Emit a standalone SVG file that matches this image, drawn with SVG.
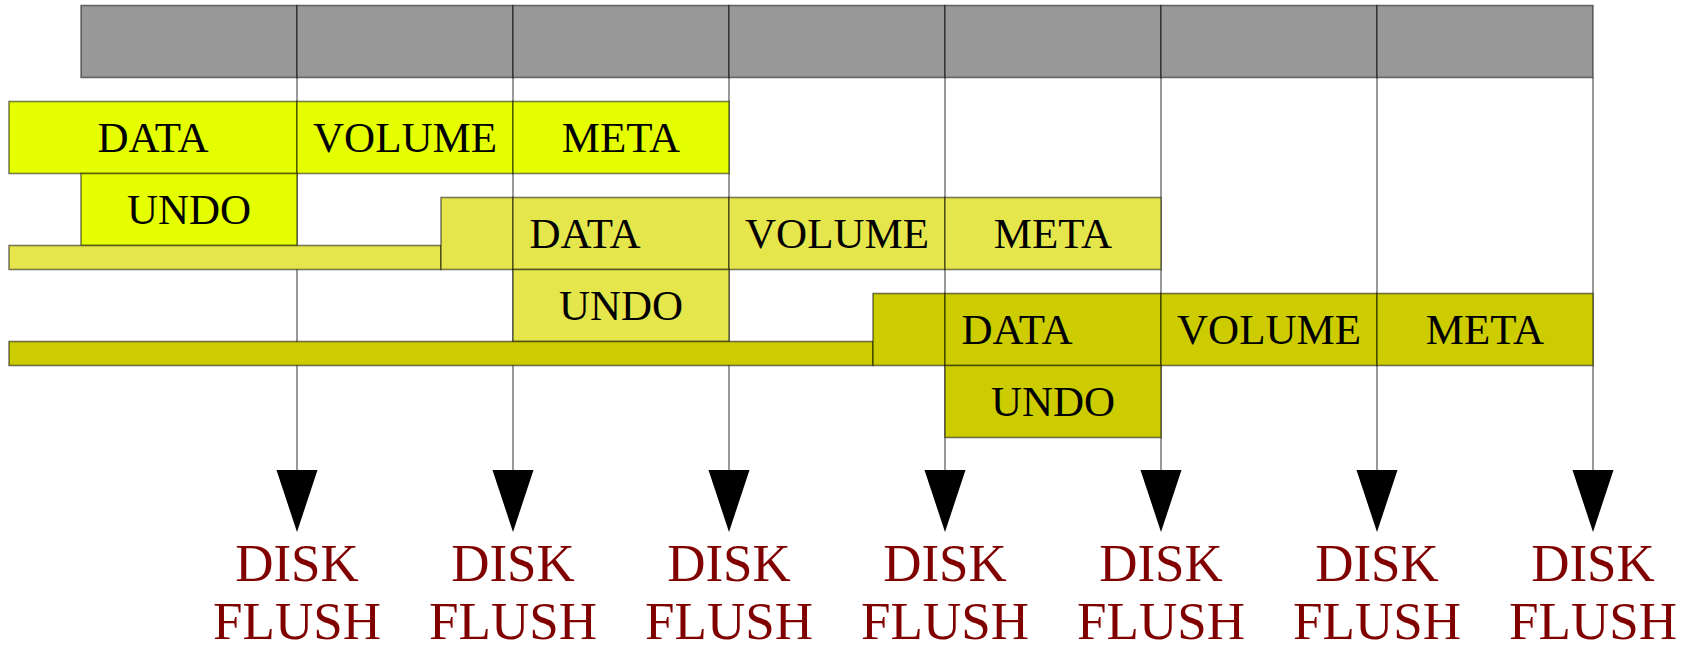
<svg xmlns="http://www.w3.org/2000/svg" width="1690" height="646" viewBox="0 0 1690 646">
  <style>
    .cell { stroke: #000; stroke-opacity: 0.5; stroke-width: 1.6; }
    .clock { fill: #999999; }
    .t1 { fill: #e5ff00; }
    .t2 { fill: #e5e54c; }
    .t3 { fill: #cccc00; }
    .lbl { font-family: "Liberation Serif", "Times New Roman", serif; font-size: 43px; fill: #000; text-anchor: middle; }
    .flush { font-family: "Liberation Serif", "Times New Roman", serif; font-size: 53px; fill: #800000; text-anchor: middle; }
    .tick { stroke: #000; stroke-opacity: 0.5; stroke-width: 1.6; fill: none; marker-end: url(#head); }
  </style>
  <defs>
    <marker id="head" markerUnits="userSpaceOnUse" viewBox="0 -21 63 42" markerWidth="63" markerHeight="42" refX="0" refY="0" orient="auto">
      <path d="M0,-20.5 L62,0 L0,20.5 Z" fill="#000"/>
    </marker>
  </defs>

  <!-- flush ticks: one vertical line per time boundary -->
  <g id="connectors">
    <line class="tick" x1="297" y1="77.5" x2="297" y2="470"/>
    <line class="tick" x1="513" y1="77.5" x2="513" y2="470"/>
    <line class="tick" x1="729" y1="77.5" x2="729" y2="470"/>
    <line class="tick" x1="945" y1="77.5" x2="945" y2="470"/>
    <line class="tick" x1="1161" y1="77.5" x2="1161" y2="470"/>
    <line class="tick" x1="1377" y1="77.5" x2="1377" y2="470"/>
    <line class="tick" x1="1593" y1="77.5" x2="1593" y2="470"/>
  </g>

  <!-- time slots -->
  <g id="timeline">
    <rect class="cell clock" x="81" y="5.5" width="216" height="72"/>
    <rect class="cell clock" x="297" y="5.5" width="216" height="72"/>
    <rect class="cell clock" x="513" y="5.5" width="216" height="72"/>
    <rect class="cell clock" x="729" y="5.5" width="216" height="72"/>
    <rect class="cell clock" x="945" y="5.5" width="216" height="72"/>
    <rect class="cell clock" x="1161" y="5.5" width="216" height="72"/>
    <rect class="cell clock" x="1377" y="5.5" width="216" height="72"/>
  </g>

  <!-- transaction 1 -->
  <g id="tx1-data"><rect class="cell t1" x="9" y="101.5" width="288" height="72"/><text class="lbl" x="153" y="152">DATA</text></g>
  <g id="tx1-volume"><rect class="cell t1" x="297" y="101.5" width="216" height="72"/><text class="lbl" x="405" y="152">VOLUME</text></g>
  <g id="tx1-meta"><rect class="cell t1" x="513" y="101.5" width="216" height="72"/><text class="lbl" x="621" y="152">META</text></g>
  <g id="tx1-undo"><rect class="cell t1" x="81" y="173.5" width="216" height="72"/><text class="lbl" x="189" y="224">UNDO</text></g>

  <!-- transaction 2 -->
  <g id="tx2-wait"><rect class="cell t2" x="9" y="245.5" width="432" height="24"/></g>
  <g id="tx2-data">
    <rect class="cell t2" x="441" y="197.5" width="72" height="72"/>
    <rect class="cell t2" x="513" y="197.5" width="216" height="72"/>
    <text class="lbl" x="585" y="248">DATA</text>
  </g>
  <g id="tx2-volume"><rect class="cell t2" x="729" y="197.5" width="216" height="72"/><text class="lbl" x="837" y="248">VOLUME</text></g>
  <g id="tx2-meta"><rect class="cell t2" x="945" y="197.5" width="216" height="72"/><text class="lbl" x="1053" y="248">META</text></g>
  <g id="tx2-undo"><rect class="cell t2" x="513" y="269.5" width="216" height="72"/><text class="lbl" x="621" y="320">UNDO</text></g>

  <!-- transaction 3 -->
  <g id="tx3-wait"><rect class="cell t3" x="9" y="341.5" width="864" height="24"/></g>
  <g id="tx3-data">
    <rect class="cell t3" x="873" y="293.5" width="72" height="72"/>
    <rect class="cell t3" x="945" y="293.5" width="216" height="72"/>
    <text class="lbl" x="1017" y="344">DATA</text>
  </g>
  <g id="tx3-volume"><rect class="cell t3" x="1161" y="293.5" width="216" height="72"/><text class="lbl" x="1269" y="344">VOLUME</text></g>
  <g id="tx3-meta"><rect class="cell t3" x="1377" y="293.5" width="216" height="72"/><text class="lbl" x="1485" y="344">META</text></g>
  <g id="tx3-undo"><rect class="cell t3" x="945" y="365.5" width="216" height="72"/><text class="lbl" x="1053" y="416">UNDO</text></g>

  <!-- flush labels -->
  <g id="flush-1"><text class="flush" x="297" y="581">DISK</text><text class="flush" x="297" y="639">FLUSH</text></g>
  <g id="flush-2"><text class="flush" x="513" y="581">DISK</text><text class="flush" x="513" y="639">FLUSH</text></g>
  <g id="flush-3"><text class="flush" x="729" y="581">DISK</text><text class="flush" x="729" y="639">FLUSH</text></g>
  <g id="flush-4"><text class="flush" x="945" y="581">DISK</text><text class="flush" x="945" y="639">FLUSH</text></g>
  <g id="flush-5"><text class="flush" x="1161" y="581">DISK</text><text class="flush" x="1161" y="639">FLUSH</text></g>
  <g id="flush-6"><text class="flush" x="1377" y="581">DISK</text><text class="flush" x="1377" y="639">FLUSH</text></g>
  <g id="flush-7"><text class="flush" x="1593" y="581">DISK</text><text class="flush" x="1593" y="639">FLUSH</text></g>
</svg>
